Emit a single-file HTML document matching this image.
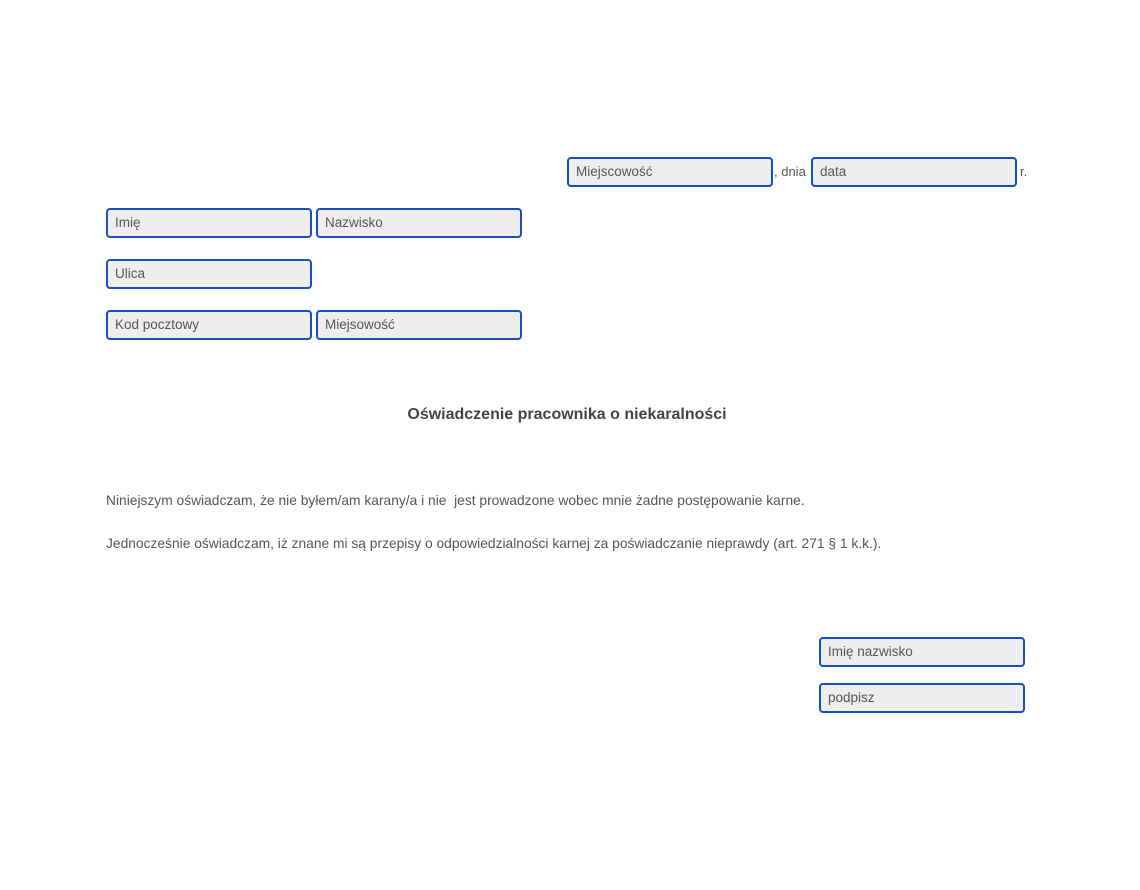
<!DOCTYPE html>
<html><head><meta charset="utf-8"><style>
body{margin:0;width:1140px;height:890px;background:#fff;font-family:"Liberation Sans",sans-serif;color:#555;position:relative;overflow:hidden}
.f{position:absolute;box-sizing:border-box;width:206px;height:30px;border:2px solid #1a4fc4;border-radius:4px;background:#eee;font-size:13.5px;line-height:26px;padding-left:7px;color:#555}
.t{position:absolute;font-size:13px;white-space:nowrap}
</style></head><body>
<div class="f" style="left:567px;top:157px">Miejscowość</div>
<div class="t" style="left:774px;top:164px">, dnia</div>
<div class="f" style="left:811px;top:157px">data</div>
<div class="t" style="left:1020px;top:164px">r.</div>
<div class="f" style="left:106px;top:208px">Imię</div>
<div class="f" style="left:316px;top:208px">Nazwisko</div>
<div class="f" style="left:106px;top:259px">Ulica</div>
<div class="f" style="left:106px;top:310px">Kod pocztowy</div>
<div class="f" style="left:316px;top:310px">Miejsowość</div>
<div class="t" style="left:0;width:1134px;text-align:center;top:406px;font-size:16px;font-weight:bold;color:#444">Oświadczenie pracownika o niekaralności</div>
<div class="t" style="left:106px;top:493px;font-size:13.8px">Niniejszym oświadczam, że nie byłem/am karany/a i nie&nbsp; jest prowadzone wobec mnie żadne postępowanie karne.</div>
<div class="t" style="left:106px;top:536px;font-size:13.8px">Jednocześnie oświadczam, iż znane mi są przepisy o odpowiedzialności karnej za poświadczanie nieprawdy (art. 271 § 1 k.k.).</div>
<div class="f" style="left:819px;top:637px">Imię nazwisko</div>
<div class="f" style="left:819px;top:683px">podpisz</div>
</body></html>
